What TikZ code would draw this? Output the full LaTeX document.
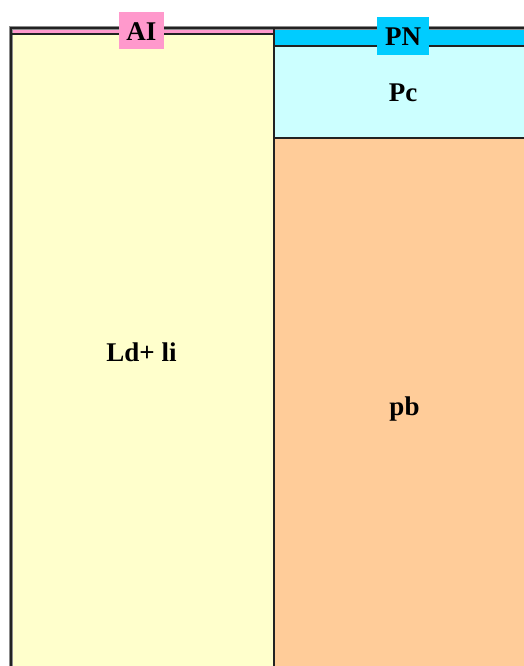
\documentclass[tikz,border=0pt]{standalone}
\usepackage{fontspec}
\setmainfont{Liberation Serif}
\definecolor{pinkc}{HTML}{FF99CC}
\definecolor{yellowc}{HTML}{FFFFCC}
\definecolor{cyanc}{HTML}{00CCFF}
\definecolor{lcyanc}{HTML}{CCFFFF}
\definecolor{orangec}{HTML}{FFCC99}
\definecolor{linec}{HTML}{222222}
\begin{document}
\begin{tikzpicture}[x=1pt,y=-1pt,
  sepline/.style={draw=linec, line width=1.6pt},
  halo/.style={draw=black!45, line width=4.5pt},
  frame/.style={draw=linec, line width=1.8pt},
  txt/.style={font=\bfseries\fontsize{27}{30}\selectfont, anchor=base, inner sep=0pt},
  tag/.style={inner sep=0pt}]
\useasboundingbox (0,0) rectangle (524,666);
\clip (0,0) rectangle (524,666);
% fills
\fill[pinkc] (11,28) rectangle (274,34);
\fill[yellowc] (11,34) rectangle (274,700);
\fill[cyanc] (274,28) rectangle (560,46);
\fill[lcyanc] (274,46) rectangle (560,138);
\fill[orangec] (274,138) rectangle (560,700);
% outer frame
\draw[halo] (11,28) rectangle (560,700);
\draw[frame] (11,28) rectangle (560,700);
% separators
\draw[sepline] (274,28) -- (274,700);
\draw[sepline] (11,34) -- (274,34);
\draw[sepline] (274,46) -- (560,46);
\draw[sepline] (274,138) -- (560,138);
% tags
\fill[pinkc] (119,12) rectangle (164,49);
\fill[cyanc] (377,17) rectangle (429,55);
\node[txt] (ai) at (141.5,41) {AI};
\node[txt] (pn) at (403,46) {PN};
\node[txt] (pc) at (403,101.5) {Pc};
\node[txt] (ld) at (141.5,361.5) {Ld+ li};
\node[txt] (pb) at (404.5,415) {pb};
\end{tikzpicture}
\end{document}
